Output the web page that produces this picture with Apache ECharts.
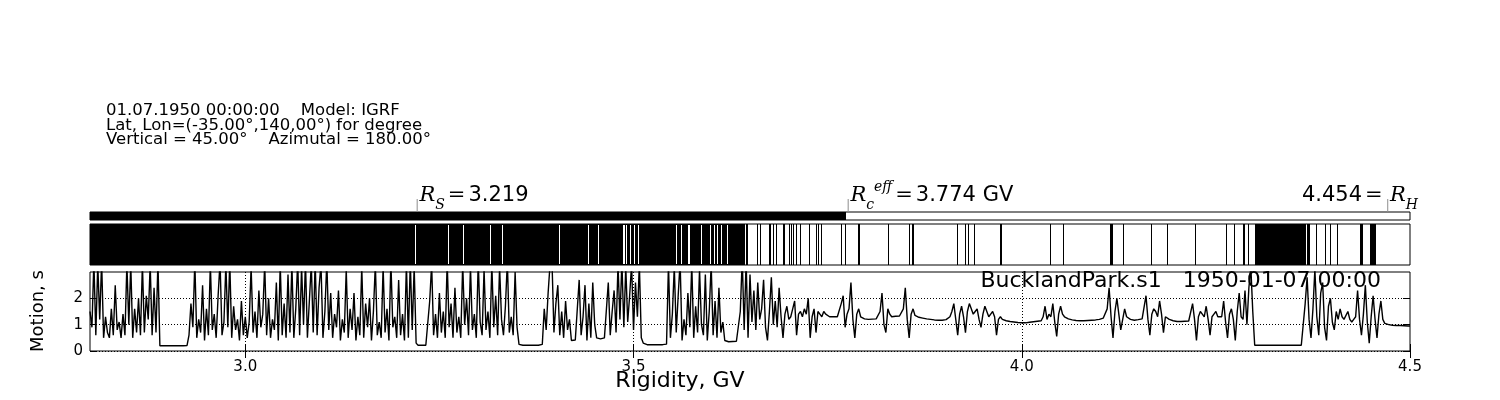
<!DOCTYPE html>
<html><head><meta charset="utf-8">
<script src="https://cdn.jsdelivr.net/npm/echarts@6/dist/echarts.min.js"></script>
<style>html,body{margin:0;padding:0;background:#fff}#c{width:1500px;height:400px}</style>
</head><body><div id="c"></div>
<script>
// ---- data ----
const rigidityMin = 2.8, rigidityMax = 4.5, rigidityStep = 0.0025;
const xTicks = [3.0, 3.5, 4.0, 4.5];
const yTicks = [0, 1, 2];
const RS = 3.219, RcEff = 3.774, RH = 4.454;
const stationText = 'BucklandPark.s1   1950-01-07 00:00';
const headerLines = [
  '01.07.1950 00:00:00    Model: IGRF',
  'Lat, Lon=(-35.00°,140,00°) for degree',
  'Vertical = 45.00°    Azimutal = 180.00°'
];
// forbidden (black) rigidity spans, GV
const forbiddenSpans = [
  [2.800, 3.644],
  [3.645, 3.648], [3.659, 3.660], [3.663, 3.664], [3.675, 3.677], [3.680, 3.681],
  [3.683, 3.684], [3.692, 3.693], [3.694, 3.695], [3.700, 3.701], [3.703, 3.704],
  [3.706, 3.707], [3.709, 3.710], [3.715, 3.716], [3.726, 3.727], [3.735, 3.736],
  [3.737, 3.738], [3.741, 3.742], [3.767, 3.768], [3.772, 3.773], [3.789, 3.792],
  [3.828, 3.829], [3.855, 3.856], [3.859, 3.861], [3.917, 3.918], [3.927, 3.928],
  [3.931, 3.932], [3.938, 3.939], [3.972, 3.975], [4.036, 4.037], [4.053, 4.054],
  [4.114, 4.118], [4.131, 4.132], [4.166, 4.167], [4.187, 4.188], [4.223, 4.225],
  [4.263, 4.264], [4.273, 4.274], [4.285, 4.287], [4.291, 4.292], [4.300, 4.366],
  [4.367, 4.371], [4.379, 4.380], [4.391, 4.392], [4.397, 4.398], [4.406, 4.407],
  [4.436, 4.440], [4.448, 4.456]
];
// thin allowed (white) rigidities inside the forbidden block, GV
const allowedTicks = [3.219, 3.261, 3.281, 3.315, 3.331, 3.404, 3.441, 3.454, 3.486, 3.488,
  3.490, 3.496, 3.500, 3.506, 3.555, 3.561, 3.570, 3.572, 3.587, 3.599, 3.603, 3.608, 3.613, 3.621];
// motion time (s), one value per 0.0025 GV from 2.800 to 4.500 (681 values)
const motion = [
  1.5, 0.9, 3.4, 0.6, 3.3, 1.2, 3.4, 0.5, 1.3, 0.7,
  0.5, 1.6, 0.6, 2.5, 0.8, 1.1, 0.5, 1.4, 0.6, 3.3,
  1.0, 3.3, 0.5, 1.6, 0.7, 2.0, 0.6, 3.3, 0.7, 2.1,
  1.2, 3.3, 0.6, 2.4, 0.7, 3.4,
  0.2, 0.2, 0.2, 0.2, 0.2, 0.2, 0.2, 0.2, 0.2, 0.2, 0.2, 0.2, 0.2, 0.2, 0.21,
  0.6, 1.8, 0.9, 3.4, 0.5, 1.2, 0.7, 2.5, 0.4, 1.6,
  0.6, 3.3, 0.8, 1.4, 0.5, 2.1, 3.4, 0.6, 1.1, 3.3,
  0.9, 3.4, 0.5, 1.7, 0.8, 1.2, 0.4, 1.9, 0.6, 1.3,
  0.5, 1.1, 3.2, 0.7, 1.5, 0.5, 2.3, 0.9, 1.4, 3.3,
  0.6, 2.0, 0.5, 1.2, 0.8, 2.6, 0.4, 3.3, 0.6, 1.8,
  0.5, 2.9, 0.7, 3.3, 0.5, 1.6, 3.4, 0.6, 3.2, 1.0,
  3.4, 0.5, 1.9, 3.3, 0.7, 3.4, 0.6, 2.4, 3.3, 0.5,
  1.5, 3.4, 0.8, 2.2, 0.5, 1.4, 0.9, 2.3, 0.4, 1.2,
  0.7, 3.1, 0.5, 1.6, 0.8, 2.2, 0.4, 1.3, 0.6, 3.2,
  0.5, 1.8, 0.9, 2.0, 0.4, 1.5, 3.3, 0.6, 1.1, 0.5,
  3.2, 0.7, 1.6, 0.4, 3.4, 0.9, 1.3, 0.5, 2.7, 0.6,
  1.4, 0.4, 3.3, 0.5, 3.4, 0.8, 3.2,
  0.3, 0.22, 0.22, 0.22, 0.22, 0.22, 0.23,
  1.9, 3.3, 0.6, 1.4, 0.5, 2.2, 0.7, 1.5, 0.5, 3.4,
  0.9, 1.8, 0.5, 2.4, 0.7, 1.3, 0.5, 3.3, 1.0, 2.0,
  0.6, 3.2, 0.8, 1.4, 0.5, 3.4, 1.1, 0.6, 3.1, 0.8,
  1.5, 0.5, 3.3, 0.9, 2.1, 0.6, 3.2, 1.2, 0.6, 1.7,
  3.4, 0.7, 1.3, 0.6, 3.0, 0.9,
  0.25, 0.22, 0.22, 0.22, 0.22, 0.22, 0.22, 0.22, 0.22, 0.22, 0.22, 0.22, 0.25,
  1.6, 0.8, 2.2, 3.3, 3.4, 0.7, 1.8, 2.5, 0.6, 1.5, 0.5, 1.9, 0.8, 1.2, 0.4,
  0.42, 0.42, 0.45,
  2.7, 0.6, 1.3, 2.5, 0.4, 1.8, 0.5, 2.6, 1.0, 0.5,
  0.45, 0.46, 0.48, 0.5, 0.55,
  2.6, 0.6, 1.5, 2.3, 0.7, 3.3, 1.2, 3.4, 0.9, 3.2,
  1.1, 2.1, 3.3, 0.8, 2.6, 1.3, 3.3, 0.5,
  0.3, 0.24, 0.24, 0.24, 0.24, 0.24, 0.24, 0.24, 0.24, 0.24, 0.24, 0.24, 0.26,
  3.3, 0.5, 1.4, 3.2, 0.7, 2.1, 3.4, 0.4, 1.2, 0.6,
  2.2, 0.9, 3.3, 0.5, 1.7, 0.7, 3.1, 1.0, 0.6, 2.9,
  0.4, 1.5, 3.3, 0.6, 1.9, 0.5, 2.4, 0.7, 1.1, 0.4,
  0.35, 0.35, 0.35, 0.36, 0.36, 0.37, 0.38, 1.5,
  3.5, 0.8, 3.4,
  0.5, 2.9, 1.1, 2.3, 0.8, 2.6, 1.2, 1.6, 2.7, 0.9,
  0.4, 1.5, 2.8, 1.0, 1.9, 0.9, 2.4, 1.3, 0.5, 1.4,
  1.7, 1.2,
  1.3, 1.6, 1.9, 0.6, 1.4, 1.5, 1.3, 1.6, 1.4, 2.0,
  0.5, 1.3, 1.6, 0.7, 1.5, 1.4, 1.3, 1.5, 1.4, 1.35,
  1.3, 1.35, 1.3, 1.32, 1.3, 1.35,
  1.8, 2.1, 0.9, 1.4, 1.6, 2.6, 1.2, 0.5, 1.4, 1.6,
  1.3, 1.25, 1.22, 1.2, 1.2, 1.2, 1.21, 1.2, 1.22, 1.25,
  1.5, 2.2, 1.0, 0.7, 1.6, 1.4,
  1.3, 1.3, 1.32, 1.3, 1.33, 1.35,
  1.6, 2.4, 1.2, 0.5, 1.4, 1.6,
  1.35, 1.3, 1.28, 1.26, 1.25, 1.23, 1.22, 1.2, 1.2, 1.19,
  1.18, 1.18, 1.17, 1.17, 1.17, 1.18, 1.19, 1.2,
  1.3, 1.5, 1.8, 1.2, 0.6, 1.4, 1.7, 1.3, 0.7, 1.5,
  1.8, 1.6, 1.4, 1.5, 1.6, 1.2, 0.9, 1.4, 1.7, 1.5,
  1.3, 1.4, 1.5, 1.3, 0.6, 1.2, 1.3, 1.2,
  1.16, 1.15, 1.13, 1.12, 1.11, 1.1, 1.09, 1.08, 1.08, 1.07,
  1.07, 1.07, 1.08, 1.09, 1.1, 1.11, 1.12, 1.13, 1.14, 1.15,
  1.3, 1.7, 1.2, 1.4, 1.3, 1.8, 1.1, 0.55, 1.4, 1.7, 1.4, 1.3,
  1.25, 1.22, 1.2, 1.18, 1.17, 1.16, 1.15, 1.15, 1.15, 1.15,
  1.16, 1.16, 1.17, 1.17, 1.18, 1.18, 1.19, 1.2, 1.22, 1.25,
  1.3,
  1.6, 2.4, 1.3, 0.5, 1.5, 2.0, 1.4, 0.8, 1.2, 1.6, 1.3, 1.25,
  1.2, 1.18, 1.17, 1.18, 1.19, 1.2, 1.22, 1.25,
  2.1, 1.2, 0.6, 1.4, 1.6, 1.5, 1.3, 1.9, 1.4, 0.7, 1.3, 1.25,
  1.2, 1.17, 1.15, 1.13, 1.12, 1.12, 1.12, 1.12, 1.13, 1.13, 1.14, 1.15,
  1.8, 1.2, 0.4, 1.3, 1.5, 1.4, 1.3, 1.7, 1.2, 0.6, 1.3, 1.4, 1.5, 1.3,
  1.3, 1.3,
  1.9, 1.1, 0.5, 1.4, 1.6, 1.2, 0.4, 1.5, 2.2, 1.3, 1.2, 2.3, 1.0, 2.4, 3.2,
  1.5, 0.22, 0.22, 0.22, 0.22, 0.22, 0.22, 0.22, 0.22, 0.22, 0.22, 0.22, 0.22, 0.22,
  0.22, 0.22, 0.22, 0.22, 0.22, 0.22, 0.22, 0.22, 0.22, 0.22, 0.22, 0.22, 0.25,
  1.8, 2.8, 1.2, 0.5, 1.6, 3.1, 1.3, 0.6, 2.2, 2.6,
  0.9, 0.4, 1.7, 2.0, 1.1, 0.8, 1.5, 1.2,
  1.6, 1.3, 1.2, 1.25, 1.5, 1.2, 1.1, 1.2, 1.3,
  2.3, 1.2, 0.6, 1.4, 2.5, 1.1, 0.3, 1.3, 2.1, 1.2, 0.5, 1.4, 1.9, 1.2,
  1.05, 1.02, 1.0, 0.99, 0.98, 0.98, 0.97, 0.97, 0.97, 0.96, 0.96, 0.95, 0.95, 0.95
];

// ---- rendering ----
const chart = echarts.init(document.getElementById('c'), null, {renderer: 'canvas'});
const FONT = '"DejaVu Sans", sans-serif';
const SERIF = '"DejaVu Serif", serif';

function spanRender(params, api) {
  const a = api.coord([api.value(0), 0]);
  const b = api.coord([api.value(1), 1]);
  const x0 = Math.round(a[0]);
  const x1 = Math.max(x0 + 1, Math.round(b[0]));
  const cs = params.coordSys;
  return {type: 'rect', shape: {x: x0, y: cs.y, width: x1 - x0, height: cs.height},
          style: {fill: '#000'}};
}
function tickRender(params, api) {
  const p = api.coord([api.value(0), 0]);
  const cs = params.coordSys;
  return {type: 'rect', shape: {x: Math.round(p[0]), y: cs.y + 1, width: 1, height: cs.height - 2},
          style: {fill: '#fff'}};
}

const rich = {
  bar: {font: '13px ' + FONT, fill: '#999', lineHeight: 20, verticalAlign: 'bottom'},
  it: {font: 'italic 21px ' + SERIF, fill: '#000', lineHeight: 32},
  sub: {font: 'italic 14px ' + SERIF, fill: '#000', lineHeight: 20, verticalAlign: 'bottom'},
  sup: {font: 'italic 14px ' + SERIF, fill: '#000', lineHeight: 14, verticalAlign: 'top'},
  eq: {font: '21px ' + SERIF, fill: '#000', lineHeight: 32, padding: [0, 3, 0, 3]},
  num: {font: '21px ' + FONT, fill: '#000', lineHeight: 32}
};

const option = {
  animation: false,
  backgroundColor: '#fff',
  grid: [
    {left: 90, top: 212, width: 1320, height: 8, show: true, borderColor: '#000', borderWidth: 1, backgroundColor: 'transparent'},
    {left: 90, top: 224, width: 1320, height: 41, show: true, borderColor: '#000', borderWidth: 1, backgroundColor: 'transparent'},
    {left: 90, top: 272, width: 1320, height: 79, show: true, borderColor: '#000', borderWidth: 1, backgroundColor: 'transparent'}
  ],
  xAxis: [
    {gridIndex: 0, type: 'value', min: rigidityMin, max: rigidityMax, show: false},
    {gridIndex: 1, type: 'value', min: rigidityMin, max: rigidityMax, show: false},
    {gridIndex: 2, type: 'value', min: rigidityMin, max: rigidityMax,
      axisLine: {show: false},
      axisTick: {show: true, inside: true, length: 7, customValues: xTicks, lineStyle: {color: '#000'}},
      axisLabel: {customValues: xTicks, formatter: v => v.toFixed(1), fontSize: 15, fontFamily: FONT, color: '#000', margin: 9,
                  showMinLabel: true, showMaxLabel: true},
      splitLine: {show: false}},
    {gridIndex: 2, type: 'value', position: 'top', min: rigidityMin, max: rigidityMax,
      axisLine: {show: false},
      axisTick: {show: true, inside: true, length: 7, customValues: xTicks, lineStyle: {color: '#000'}},
      axisLabel: {show: false}, splitLine: {show: false}}
  ],
  yAxis: [
    {gridIndex: 0, type: 'value', min: 0, max: 1, show: false},
    {gridIndex: 1, type: 'value', min: 0, max: 1, show: false},
    {gridIndex: 2, type: 'value', min: 0, max: 3, interval: 1,
      axisLine: {show: false},
      axisTick: {show: true, inside: true, length: 7, customValues: yTicks, lineStyle: {color: '#000'}},
      axisLabel: {customValues: yTicks, fontSize: 15, fontFamily: FONT, color: '#000', margin: 7},
      splitLine: {show: true, lineStyle: {type: [1, 2], color: '#000', width: 1}}},
    {gridIndex: 2, type: 'value', position: 'right', min: 0, max: 3, interval: 1,
      axisLine: {show: false},
      axisTick: {show: true, inside: true, length: 7, customValues: yTicks, lineStyle: {color: '#000'}},
      axisLabel: {show: false}, splitLine: {show: false}}
  ],
  series: [
    {type: 'custom', xAxisIndex: 0, yAxisIndex: 0, renderItem: spanRender, silent: true,
      dimensions: ['a', 'b'], encode: {x: ['a', 'b']}, data: [[rigidityMin, RcEff]]},
    {type: 'custom', xAxisIndex: 1, yAxisIndex: 1, renderItem: spanRender, silent: true,
      dimensions: ['a', 'b'], encode: {x: ['a', 'b']}, data: forbiddenSpans},
    {type: 'custom', xAxisIndex: 1, yAxisIndex: 1, renderItem: tickRender, silent: true,
      dimensions: ['a'], encode: {x: ['a']}, data: allowedTicks.map(v => [v])},
    {type: 'line', xAxisIndex: 2, yAxisIndex: 2, showSymbol: false, symbol: 'none', silent: true,
      clip: true, sampling: null, lineStyle: {color: '#000', width: 1.4}, emphasis: {disabled: true},
      data: motion.map((v, i) => [rigidityMin + i * rigidityStep, v]),
      markLine: {silent: true, symbol: ['none', 'none'], label: {show: false},
        lineStyle: {type: [1, 2], color: '#000', width: 1},
        data: xTicks.filter(v => v < rigidityMax).map(v => ({xAxis: v}))}}
  ],
  graphic: [
    ...headerLines.map((t, k) => ({type: 'text', x: 106, y: 111 + k * 14.5, z: 10,
      style: {text: t, font: '16.5px ' + FONT, fill: '#000', verticalAlign: 'middle'}})),
    {type: 'text', x: 415, y: 196, z: 10,
      style: {text: '{bar||}{it|R}{sub|S}{eq|=}{num|' + RS.toFixed(3) + '}', rich: rich, verticalAlign: 'middle'}},
    {type: 'text', x: 846, y: 196, z: 10,
      style: {text: '{bar||}{it|R}{sub|c}{sup|eff}{eq|=}{num|' + RcEff.toFixed(3) + ' GV}', rich: rich, verticalAlign: 'middle'}},
    {type: 'text', x: 1418, y: 196, z: 10,
      style: {text: '{num|' + RH.toFixed(3) + '}{eq|=}{bar||}{it|R}{sub|H}', rich: rich, align: 'right', verticalAlign: 'middle'}},
    {type: 'text', x: 1381, y: 281, z: 10,
      style: {text: stationText, font: '22px ' + FONT, fill: '#000', align: 'right', verticalAlign: 'middle'}},
    {type: 'text', x: 680, y: 381, z: 10,
      style: {text: 'Rigidity, GV', font: '22px ' + FONT, fill: '#000', align: 'center', verticalAlign: 'middle'}},
    {type: 'text', x: 38, y: 311, rotation: Math.PI / 2, z: 10,
      style: {text: 'Motion, s', font: '18px ' + FONT, fill: '#000', align: 'center', verticalAlign: 'middle'}}
  ]
};
chart.setOption(option);
</script>
</body></html>
